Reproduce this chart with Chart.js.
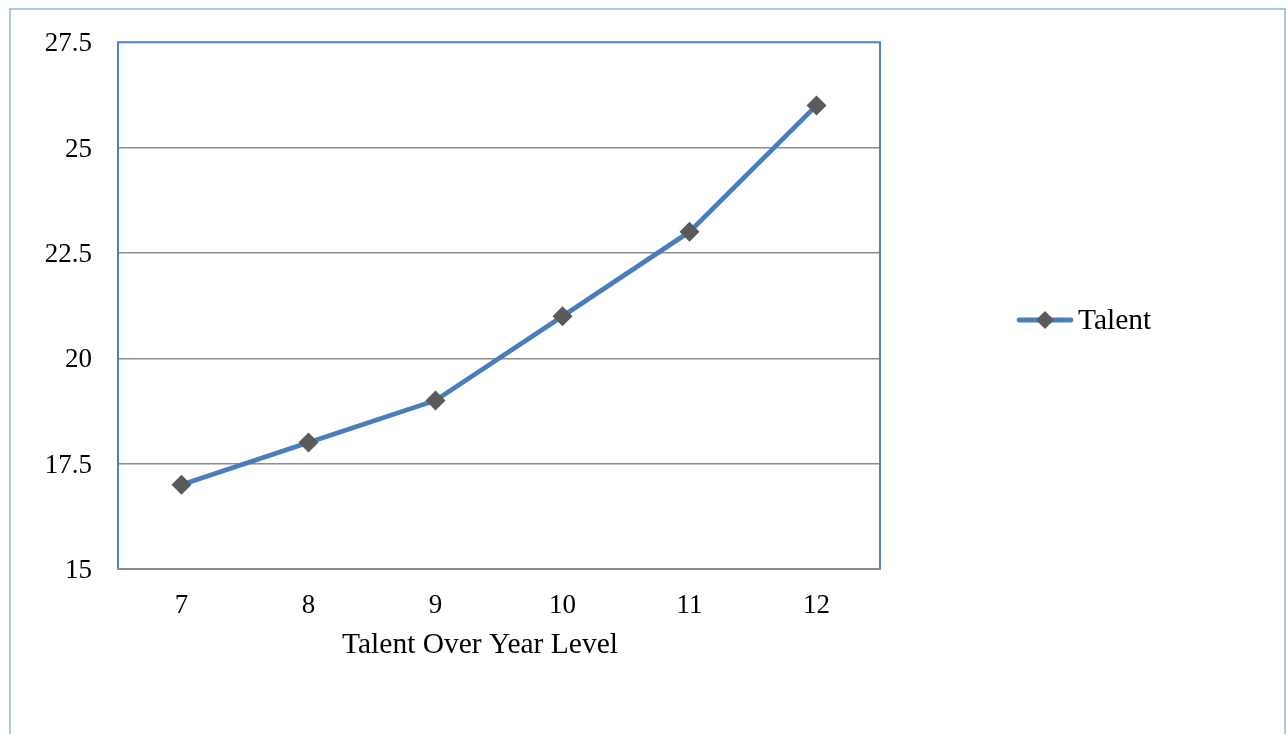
<!DOCTYPE html>
<html>
<head>
<meta charset="utf-8">
<script src="https://cdn.jsdelivr.net/npm/chart.js@4/dist/chart.umd.min.js"></script>
<style>
  html, body { margin: 0; padding: 0; background: #fff; }
  #wrap { position: relative; width: 1287px; height: 734px; }
</style>
</head>
<body>
<div id="wrap"><canvas id="chart"></canvas></div>
<script>
// Talent scores by year level
const yearLevels = ['7', '8', '9', '10', '11', '12'];
const talentValues = [17, 18, 19, 21, 23, 26];
const seriesName = 'Talent';
const axisTitle = 'Talent Over Year Level';

const FONT = "'Liberation Serif', 'Times New Roman', serif";
const LINE_BLUE = '#4A7EBB';
const MARKER_GREY = '#5A5A5A';
const GRID_GREY = '#8C8C8C';
const FRAME_BLUE = '#4F81BD';

// Outer chart frame, plot-area border, axis title and the side legend
const decorations = {
  id: 'decorations',
  beforeDraw(chart) {
    const ctx = chart.ctx;
    ctx.save();
    ctx.fillStyle = '#fff';
    ctx.fillRect(0, 0, chart.width, chart.height);
    ctx.strokeStyle = '#95B3D7';
    ctx.lineWidth = 1.5;
    ctx.strokeRect(10, 9, chart.width - 12, chart.height + 20);
    ctx.restore();
  },
  beforeDatasetsDraw(chart) {
    const { ctx, chartArea: a } = chart;
    ctx.save();
    ctx.strokeStyle = FRAME_BLUE;
    ctx.lineWidth = 2;
    ctx.beginPath();
    ctx.moveTo(a.left, a.bottom);
    ctx.lineTo(a.left, a.top);
    ctx.lineTo(a.right, a.top);
    ctx.lineTo(a.right, a.bottom);
    ctx.stroke();
    ctx.strokeStyle = GRID_GREY;
    ctx.beginPath();
    ctx.moveTo(a.left - 1, a.bottom);
    ctx.lineTo(a.right + 1, a.bottom);
    ctx.stroke();
    ctx.restore();
  },
  afterDraw(chart) {
    const ctx = chart.ctx;
    const ds = chart.data.datasets[0];
    ctx.save();

    // x axis title
    ctx.fillStyle = '#000';
    ctx.font = '29.5px ' + FONT;
    ctx.textAlign = 'center';
    ctx.textBaseline = 'middle';
    ctx.fillText(axisTitle, 480, 645);

    // legend entry
    const y = 320;
    ctx.strokeStyle = ds.borderColor;
    ctx.lineWidth = ds.borderWidth;
    ctx.lineCap = 'round';
    ctx.beginPath();
    ctx.moveTo(1019, y);
    ctx.lineTo(1071, y);
    ctx.stroke();
    ctx.fillStyle = ds.pointBackgroundColor;
    ctx.beginPath();
    ctx.moveTo(1045, y - 9); ctx.lineTo(1054, y); ctx.lineTo(1045, y + 9); ctx.lineTo(1036, y);
    ctx.closePath();
    ctx.fill();
    ctx.fillStyle = '#000';
    ctx.font = '29.5px ' + FONT;
    ctx.textAlign = 'left';
    ctx.fillText(ds.label, 1078, y + 1);
    ctx.restore();
  }
};

new Chart(document.getElementById('chart'), {
  type: 'line',
  data: {
    labels: yearLevels,
    datasets: [{
      label: seriesName,
      data: talentValues,
      borderColor: LINE_BLUE,
      borderWidth: 4.8,
      tension: 0,
      pointStyle: 'rectRot',
      pointRadius: 10,
      pointHoverRadius: 10,
      pointBackgroundColor: MARKER_GREY,
      pointBorderColor: MARKER_GREY,
      pointBorderWidth: 0
    }]
  },
  options: {
    responsive: true,
    maintainAspectRatio: false,
    animation: false,
    events: [],
    layout: { padding: { left: 0, top: 42, right: 407, bottom: 0 } },
    plugins: {
      legend: { display: false },
      tooltip: { enabled: false }
    },
    scales: {
      x: {
        offset: true,
        grid: { display: false, drawTicks: false },
        border: { display: false },
        ticks: {
          color: '#000',
          font: { family: FONT, size: 27 },
          padding: 21,
          maxRotation: 0
        },
        afterFit(scale) { scale.height = 165; }
      },
      y: {
        min: 15,
        max: 27.5,
        grid: {
          drawTicks: false,
          lineWidth: 1.5,
          color: (c) => (c.tick && (c.tick.value === 15 || c.tick.value === 27.5)) ? 'rgba(0,0,0,0)' : GRID_GREY
        },
        border: { display: false },
        ticks: {
          stepSize: 2.5,
          color: '#000',
          font: { family: FONT, size: 27 },
          padding: 26,
          labelOffset: 2,
          callback: (v) => String(v)
        },
        afterFit(scale) { scale.width = 118; }
      }
    }
  },
  plugins: [decorations]
});
</script>
</body>
</html>
